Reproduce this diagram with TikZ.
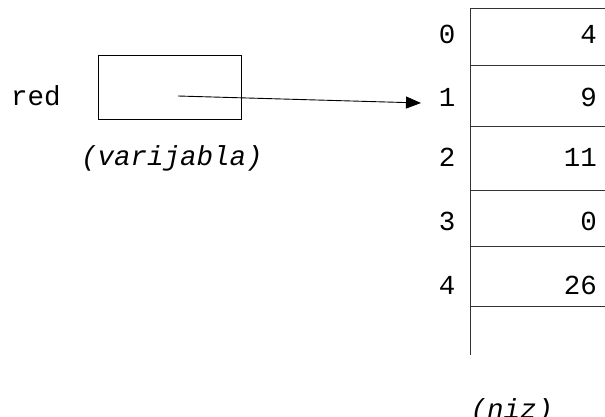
\documentclass[tikz,border=0pt]{standalone}
\usepackage{fontspec}
\setmainfont{Liberation Mono}
\usetikzlibrary{arrows.meta}
\begin{document}
\begin{tikzpicture}[x=1pt,y=-1pt,
  txt/.style={inner sep=0pt,font=\fontsize{27.5}{32}\selectfont},
  lbl/.style={txt,font=\fontsize{27.5}{32}\selectfont\itshape},
  ln/.style={line width=0.9pt,black!80},
  arr/.style={line width=0.9pt,-{Triangle[length=15pt,width=12pt]}}]
\useasboundingbox (0,0) rectangle (605,417);
% variable
\node[txt,anchor=west] (red) at (11,96) {red};
\node[draw,line width=0.9pt,minimum width=143pt,minimum height=64pt,inner sep=0pt] (box) at (170,87) {};
\node[lbl] (varl) at (172,158) {(varijabla)};
\coordinate (ptr) at (178,96);
% array
\draw[ln] (605,8) -- (470,8) -- (470,355);
\foreach \y in {65,126,190,246,306}{\draw[ln] (470,\y) -- (605,\y);}
\foreach \i/\y/\v in {0/34/4,1/97/9,2/157/11,3/221/0,4/285/26}{
  \node[txt] (i\i) at (447,\y) {\i};
  \node[txt,anchor=east] (v\i) at (597,\y) {\v};
}
\coordinate (tgt) at (421,103);
\draw[arr] (ptr) -- (tgt);
\node[lbl] (niz) at (512,411) {(niz)};
\end{tikzpicture}
\end{document}
